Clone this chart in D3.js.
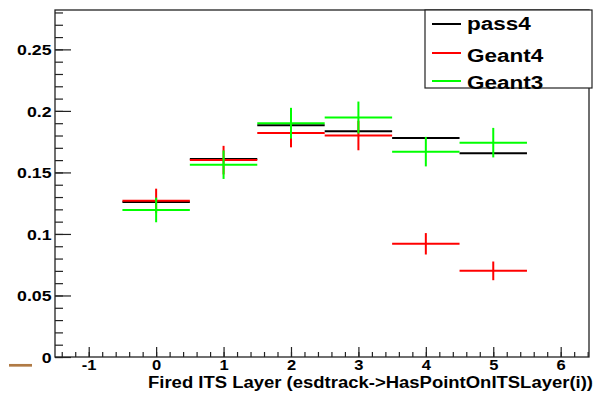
<!DOCTYPE html>
<html>
<head>
<meta charset="utf-8">
<script src="https://cdn.jsdelivr.net/npm/d3@7"></script>
<style>
  body { margin: 0; background: #fff; }
  text { font-family: "Liberation Sans", Arial, sans-serif; font-weight: bold; fill: #000; }
</style>
</head>
<body>
<svg width="594" height="394"></svg>
<script>
// bins (ITS layer index) and per-bin fractions
const layers = [0, 1, 2, 3, 4, 5];
const pass4 = [0.126, 0.161, 0.1884, 0.1835, 0.178, 0.1656];
const geant4 = [0.127, 0.160, 0.182, 0.180, 0.092, 0.070];
const geant4Err = [0.0098, 0.0116, 0.0116, 0.012, 0.0087, 0.0076];
const geant3 = [0.1195, 0.1563, 0.190, 0.1946, 0.1669, 0.1742];
const geant3Err = [0.010, 0.0116, 0.0125, 0.013, 0.012, 0.012];

const xMajor = [-1, 0, 1, 2, 3, 4, 5, 6];
const xMinor = d3.range(-7, 33).map(i => i / 5);
const yMajor = [0, 0.05, 0.1, 0.15, 0.2, 0.25];
const yMinor = d3.range(0, 29).map(i => i / 100);
const legendNames = ['pass4', 'Geant4', 'Geant3'];
const legendColors = ['#000000', '#ff0000', '#00ff00'];

const svg = d3.select('svg');

const x = d3.scaleLinear().domain([-1.5, 6.42]).range([55, 589]);
const y = d3.scaleLinear().domain([0, 0.282]).range([357, 10]);

// stretch text horizontally (the original glyphs are wider than Liberation Sans)
function widen(sel, k) {
    sel.each(function () {
        const w = this.getComputedTextLength();
        d3.select(this).attr('textLength', w * k).attr('lengthAdjust', 'spacingAndGlyphs');
    });
}

//  frame
svg.append('rect')
    .attr('x', 55).attr('y', 10)
    .attr('width', 534).attr('height', 347)
    .attr('fill', 'none')
    .attr('stroke', '#222')
    .attr('stroke-width', 1.3);

//  X axis (ticks point up into the frame)
svg.append('g').attr('transform', 'translate(0,357)')
    .call(d3.axisBottom(x).tickValues(xMinor).tickSizeInner(-5).tickSizeOuter(0).tickFormat(''));
const xAxis = svg.append('g').attr('transform', 'translate(0,357)')
    .call(d3.axisBottom(x).tickValues(xMajor).tickSizeInner(-10).tickSizeOuter(0).tickPadding(3).tickFormat(d => String(d)));

//  Y axis (ticks point right)
svg.append('g').attr('transform', 'translate(55,0)')
    .call(d3.axisLeft(y).tickValues(yMinor).tickSizeInner(-8).tickSizeOuter(0).tickFormat(''));
const yAxis = svg.append('g').attr('transform', 'translate(55,0)')
    .call(d3.axisLeft(y).tickValues(yMajor).tickSizeInner(-16).tickSizeOuter(0).tickPadding(3.5).tickFormat(d => String(d)));

svg.selectAll('.domain').remove();
svg.selectAll('.tick line').attr('stroke', '#222').attr('stroke-width', 1.2);
svg.selectAll('g').attr('font-family', null).attr('font-size', null);

xAxis.selectAll('text').attr('font-size', 14).attr('font-weight', 'bold');
yAxis.selectAll('text').attr('font-size', 15).attr('font-weight', 'bold').attr('dy', '0.36em');
widen(xAxis.selectAll('text'), 1.18);
widen(yAxis.selectAll('text'), 1.18);

//  axis title
svg.append('text')
    .attr('x', 593).attr('y', 388)
    .attr('text-anchor', 'end')
    .attr('font-size', 16)
    .attr('textLength', 445)
    .attr('lengthAdjust', 'spacingAndGlyphs')
    .text('Fired ITS Layer (esdtrack->HasPointOnITSLayer(i))');

//  stray brown marker at bottom-left
svg.append('line')
    .attr('x1', 9).attr('x2', 32)
    .attr('y1', 365.3).attr('y2', 365.3)
    .attr('stroke', '#b07a45')
    .attr('stroke-width', 2.7);

//  histograms: horizontal bin lines plus vertical error bars
function drawHist(values, errors, color) {
    const g = svg.append('g');
    g.selectAll('line.h').data(layers).join('line')
        .attr('class', 'h')
        .attr('x1', d => x(d - 0.5)).attr('x2', d => x(d + 0.5))
        .attr('y1', (d, i) => y(values[i])).attr('y2', (d, i) => y(values[i]))
        .attr('stroke', color).attr('stroke-width', 2);
    if (errors) {
        g.selectAll('line.v').data(layers).join('line')
            .attr('class', 'v')
            .attr('x1', d => x(d)).attr('x2', d => x(d))
            .attr('y1', (d, i) => y(values[i] + errors[i]))
            .attr('y2', (d, i) => y(values[i] - errors[i]))
            .attr('stroke', color).attr('stroke-width', 2);
    }
}
drawHist(pass4, null, legendColors[0]);
drawHist(geant4, geant4Err, legendColors[1]);
drawHist(geant3, geant3Err, legendColors[2]);

//  legend
const legend = svg.append('g');
legend.append('rect')
    .attr('x', 425).attr('y', 10)
    .attr('width', 167).attr('height', 78)
    .attr('fill', '#fff')
    .attr('stroke', '#222')
    .attr('stroke-width', 1.2);
const lineY = [24, 53, 81];
const textY = [30, 62.5, 89];
legendNames.forEach((name, i) => {
    legend.append('line')
        .attr('x1', 432).attr('x2', 461)
        .attr('y1', lineY[i]).attr('y2', lineY[i])
        .attr('stroke', legendColors[i]).attr('stroke-width', 2);
    legend.append('text')
        .attr('x', 467).attr('y', textY[i] - 0.5)
        .attr('font-size', 18)
        .text(name);
});
widen(legend.selectAll('text'), 1.25);
</script>
</body>
</html>
